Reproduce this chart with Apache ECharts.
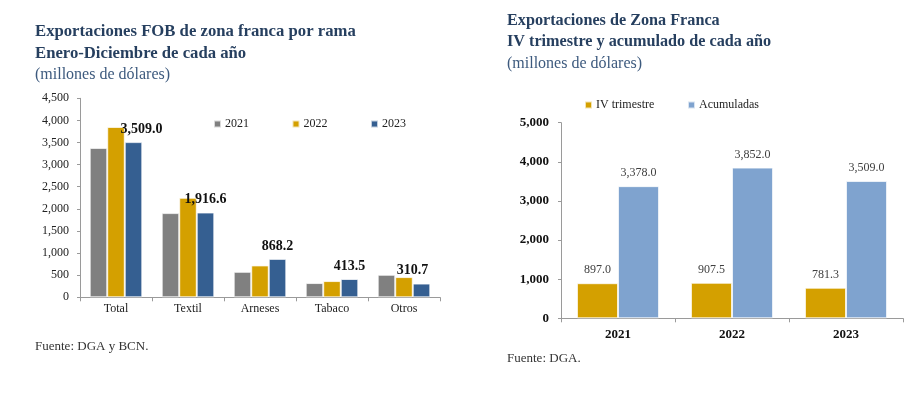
<!DOCTYPE html>
<html>
<head>
<meta charset="utf-8">
<script src="https://cdn.jsdelivr.net/npm/echarts@6/dist/echarts.min.js"></script>
<style>
  body { margin: 0; background: #fff; }
  #chart-root { width: 921px; height: 397px; }
</style>
</head>
<body>
<div id="chart-root"></div>
<script>
// datos del gráfico izquierdo (por rama)
const ramas = ["Total", "Textil", "Arneses", "Tabaco", "Otros"];
const anios = ["2021", "2022", "2023"];
const v2021 = [3378.0, 1904.0, 576.0, 322.0, 509.0];
const v2022 = [3852.0, 2250.0, 720.0, 367.0, 457.0];
const v2023 = [3509.0, 1916.6, 868.2, 413.5, 310.7];

// datos del gráfico derecho (trimestre y acumulado)
const periodos = ["2021", "2022", "2023"];
const ivTrimestre = [897.0, 907.5, 781.3];
const acumuladas = [3378.0, 3852.0, 3509.0];

const serif = "Liberation Serif";
const navy = "#263f5f";
const fmt = v => v.toLocaleString("en-US", { minimumFractionDigits: 1, maximumFractionDigits: 1 });

// desplazamiento horizontal de las etiquetas de 2023 (como en el original)
const labelShift = [8, 0, 0, 0, -9];

let chart = echarts.init(document.getElementById("chart-root"));

const barBorder = { borderColor: "rgba(255,255,255,0.7)", borderWidth: 1 };

const ttl = (text, left, top, size, bold, color) => ({
  text, left, top, padding: 0,
  textStyle: { fontFamily: serif, fontSize: size, fontWeight: bold ? "bold" : "normal", color }
});

let option = {
  animation: false,
  textStyle: { fontFamily: serif },
  title: [
    ttl("Exportaciones FOB de zona franca por rama", 35, 23, 16.7, true, navy),
    ttl("Enero-Diciembre de cada año", 35, 45, 16.7, true, navy),
    ttl("(millones de dólares)", 35, 67, 16, false, "#3d5a7e"),
    ttl("Fuente: DGA y BCN.", 35, 340, 13, false, "#333"),
    ttl("Exportaciones de Zona Franca", 507, 13, 16.2, true, navy),
    ttl("IV trimestre y acumulado de cada año", 507, 34, 16.2, true, navy),
    ttl("(millones de dólares)", 507, 56, 16, false, "#3d5a7e"),
    ttl("Fuente: DGA.", 507, 352, 13, false, "#333")
  ],
  legend: [
    { data: [anios[0]], left: 213, top: 118 },
    { data: [anios[1]], left: 291.5, top: 118 },
    { data: [anios[2]], left: 370, top: 118 },
    { data: ["IV trimestre"], left: 584, top: 99 },
    { data: ["Acumuladas"], left: 687, top: 99 }
  ].map(l => Object.assign(l, {
    itemWidth: 7, itemHeight: 7, itemGap: 4, icon: "rect", padding: 0,
    textStyle: { fontFamily: serif, fontSize: 12, color: "#222", padding: [0, 0, 0, -1] }
  })),
  grid: [
    { left: 80, right: 481, top: 98.3, bottom: 99.7 },
    { left: 561, right: 18, top: 122.7, bottom: 78.7 }
  ],
  xAxis: [
    {
      gridIndex: 0, type: "category", data: ramas,
      axisLine: { lineStyle: { color: "#9a9a9a" } },
      axisTick: { show: true, length: 4, lineStyle: { color: "#9a9a9a" } },
      axisLabel: { fontFamily: serif, fontSize: 12, color: "#222", margin: 6 }
    },
    {
      gridIndex: 1, type: "category", data: periodos,
      axisLine: { lineStyle: { color: "#9a9a9a" } },
      axisTick: { show: true, length: 4, lineStyle: { color: "#9a9a9a" } },
      axisLabel: { fontFamily: serif, fontSize: 13, fontWeight: "bold", color: "#111", margin: 10 }
    }
  ],
  yAxis: [
    {
      gridIndex: 0, type: "value", min: 0, max: 4500, interval: 500,
      splitLine: { show: false },
      axisLine: { show: true, lineStyle: { color: "#9a9a9a" } },
      axisTick: { show: true, length: 3, lineStyle: { color: "#9a9a9a" } },
      axisLabel: { fontFamily: serif, fontSize: 12, color: "#222", margin: 11,
        formatter: v => v.toLocaleString("en-US") }
    },
    {
      gridIndex: 1, type: "value", min: 0, max: 5000, interval: 1000,
      splitLine: { show: false },
      axisLine: { show: true, lineStyle: { color: "#9a9a9a" } },
      axisTick: { show: true, length: 3, lineStyle: { color: "#9a9a9a" } },
      axisLabel: { fontFamily: serif, fontSize: 13, fontWeight: "bold", color: "#111", margin: 12,
        formatter: v => v.toLocaleString("en-US") }
    }
  ],
  series: [
    {
      name: anios[0], type: "bar", xAxisIndex: 0, yAxisIndex: 0,
      data: v2021, barGap: "0%", barCategoryGap: "27%",
      itemStyle: Object.assign({ color: "#808080" }, barBorder)
    },
    {
      name: anios[1], type: "bar", xAxisIndex: 0, yAxisIndex: 0,
      data: v2022, barGap: "0%", barCategoryGap: "27%",
      itemStyle: Object.assign({ color: "#d4a000" }, barBorder)
    },
    {
      name: anios[2], type: "bar", xAxisIndex: 0, yAxisIndex: 0,
      data: v2023.map((v, i) => ({ value: v, label: { offset: [labelShift[i], 0] } })),
      barGap: "0%", barCategoryGap: "27%",
      itemStyle: Object.assign({ color: "#355f91" }, barBorder),
      label: {
        show: true, position: "top", distance: 6,
        fontFamily: serif, fontSize: 14, fontWeight: "bold", color: "#111",
        formatter: p => fmt(p.value)
      }
    },
    {
      name: "IV trimestre", type: "bar", xAxisIndex: 1, yAxisIndex: 1,
      data: ivTrimestre, barGap: "0%", barCategoryGap: "28%",
      itemStyle: Object.assign({ color: "#d4a000" }, barBorder),
      label: {
        show: true, position: "top", distance: 7,
        fontFamily: serif, fontSize: 12, color: "#404040",
        formatter: p => fmt(p.value)
      }
    },
    {
      name: "Acumuladas", type: "bar", xAxisIndex: 1, yAxisIndex: 1,
      data: acumuladas, barGap: "0%", barCategoryGap: "28%",
      itemStyle: Object.assign({ color: "#7fa3cf" }, barBorder),
      label: {
        show: true, position: "top", distance: 7,
        fontFamily: serif, fontSize: 12, color: "#404040",
        formatter: p => fmt(p.value)
      }
    }
  ]
};

chart.setOption(option);
window.onresize = chart.resize;
</script>
</body>
</html>
